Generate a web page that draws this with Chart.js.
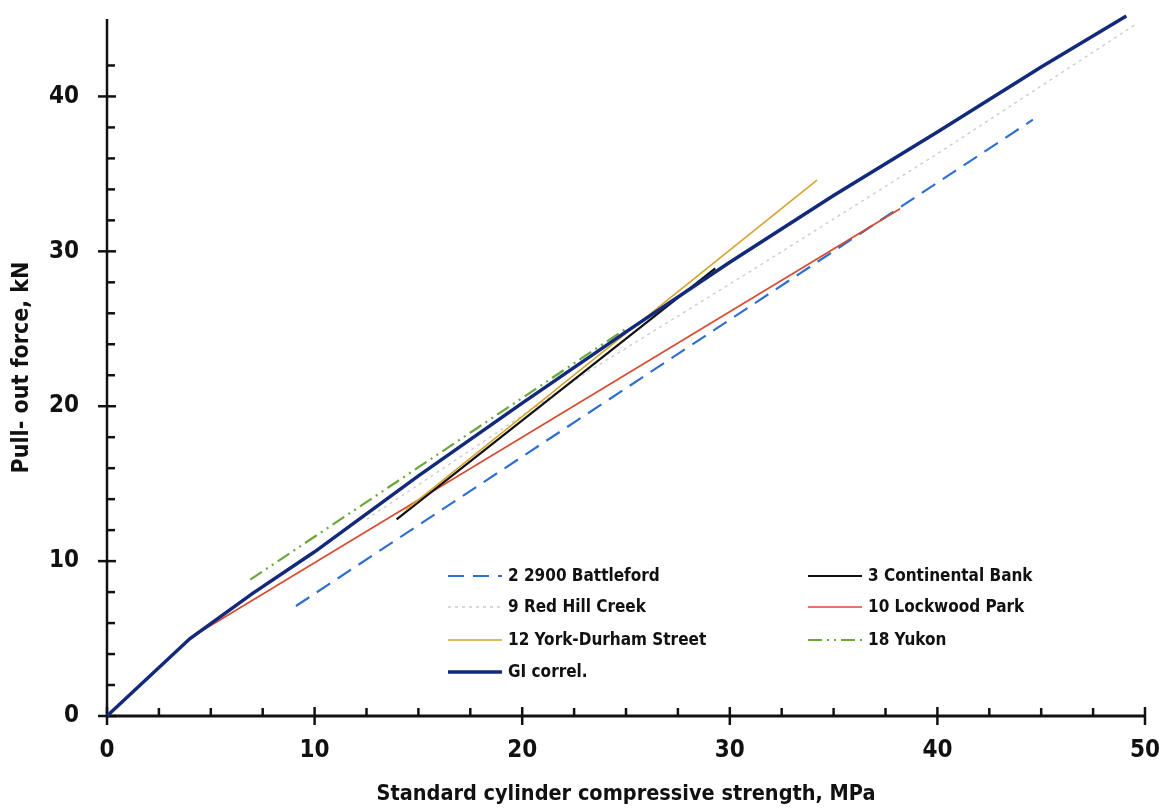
<!DOCTYPE html>
<html><head><meta charset="utf-8">
<script src="https://cdn.jsdelivr.net/npm/chart.js@4/dist/chart.umd.min.js"></script>
<style>html,body{margin:0;padding:0;background:#fff;}#wrap{width:1163px;height:809px;}</style>
</head><body><div id="wrap"><canvas id="c" width="1163" height="809"></canvas></div>
<script>
// ---- data ----
const seriesNames = ['2 2900 Battleford','3 Continental Bank','9 Red Hill Creek','10 Lockwood Park','12 York-Durham Street','18 Yukon','GI correl.'];
const battlefordX = [9.1, 44.6];
const battlefordY = [7.1, 38.5];
const continentalX = [13.95, 29.3];
const continentalY = [12.7, 28.9];
const redHillX = [12.5, 18, 23.25, 31.1, 40, 49.6];
const redHillY = [12.7, 17.6, 22.3, 28.8, 36.3, 44.7];
const lockwoodX = [4.2, 38.2];
const lockwoodY = [5.2, 32.75];
const yorkX = [14.4, 34.2];
const yorkY = [13.3, 34.6];
const yukonX = [6.9, 25.1];
const yukonY = [8.8, 25.1];
const giX = [0, 4, 7, 10, 15, 20, 25, 30, 35, 40, 45, 49.1];
const giY = [0, 5, 7.9, 10.6, 15.5, 20.2, 24.8, 29.3, 33.6, 37.7, 41.9, 45.2];
const xTickLabels = ['0','10','20','30','40','50'];
const yTickLabels = ['0','10','20','30','40'];
const xTitle = 'Standard cylinder compressive strength, MPa';
const yTitle = 'Pull- out force, kN';

const FONT = "'DejaVu Sans Condensed', 'Liberation Sans Narrow', 'DejaVu Sans', sans-serif";
const pts = (xs, ys) => xs.map((v, i) => ({x: v, y: ys[i]}));

const styles = [
  {color:'#2f6fd0', width:2.2, dash:[16,9], order:5},
  {color:'#111111', width:2.2, dash:[], order:3},
  {color:'#c9ccd4', width:1.4, dash:[3,4], order:6},
  {color:'#d84a2e', width:1.6, dash:[], order:4},
  {color:'#d4a32a', width:1.6, dash:[], order:2},
  {color:'#6aa839', width:2.2, dash:[14,5,2,5,2,5], order:1},
  {color:'#12297c', width:3.5, dash:[], order:0}
];
const seriesData = [
  pts(battlefordX, battlefordY), pts(continentalX, continentalY), pts(redHillX, redHillY),
  pts(lockwoodX, lockwoodY), pts(yorkX, yorkY), pts(yukonX, yukonY), pts(giX, giY)
];

const datasets = seriesNames.map((n, i) => ({
  label: n, data: seriesData[i], borderColor: styles[i].color, backgroundColor: styles[i].color,
  borderWidth: styles[i].width, borderDash: styles[i].dash, order: styles[i].order,
  pointRadius: 0, tension: 0, fill: false, clip: false
}));

const axesPlugin = {
  id: 'axesTicks',
  beforeDatasetsDraw(chart) {
    const {ctx, scales: {x, y}} = chart;
    const x0 = x.getPixelForValue(0), y0 = y.getPixelForValue(0);
    const ln = (a, b, c, d) => { ctx.beginPath(); ctx.moveTo(a, b); ctx.lineTo(c, d); ctx.stroke(); };
    ctx.save();
    ctx.strokeStyle = '#111';
    ctx.lineCap = 'butt';
    ctx.lineWidth = 2.5;
    ln(x0, y.getPixelForValue(y.max), x0, y0 + 1);
    ctx.lineWidth = 3;
    ln(x0 - 1, y0, x.getPixelForValue(x.max) + 1, y0);
    ctx.lineWidth = 2.5;
    x.ticks.forEach(t => {
      const px = x.getPixelForValue(t.value);
      if (t.value % 10 === 0) ln(px, y0 - 9, px, y0 + 9);
      else ln(px, y0 - 8, px, y0);
    });
    y.ticks.forEach(t => {
      if (t.value % 2 !== 0) return;
      const py = y.getPixelForValue(t.value);
      if (t.value % 10 === 0) ln(x0 - 9, py, x0 + 9, py);
      else ln(x0, py, x0 + 8, py);
    });
    ctx.restore();
  }
};

const legendPlugin = {
  id: 'customLegend',
  afterDraw(chart, args, opts) {
    const ctx = chart.ctx;
    ctx.save();
    ctx.font = 'bold ' + opts.fontSize + 'px ' + FONT;
    ctx.textBaseline = 'middle';
    ctx.fillStyle = '#111';
    chart.data.datasets.forEach((ds, i) => {
      const col = i % 2, row = Math.floor(i / 2);
      const lx = opts.colX[col], ly = opts.rowY[row];
      ctx.beginPath();
      ctx.strokeStyle = ds.borderColor;
      ctx.lineWidth = ds.borderWidth;
      ctx.setLineDash(ds.borderDash || []);
      ctx.moveTo(lx, ly); ctx.lineTo(lx + opts.lineLen, ly); ctx.stroke();
      ctx.setLineDash([]);
      ctx.fillText(ds.label, lx + opts.lineLen + opts.gap, ly + 1);
    });
    ctx.restore();
  }
};

new Chart(document.getElementById('c'), {
  type: 'line',
  data: {datasets},
  plugins: [axesPlugin, legendPlugin],
  options: {
    responsive: false, animation: false, devicePixelRatio: 1,
    layout: {padding: {top: 19, right: 18, left: 0, bottom: 0}},
    plugins: {
      legend: {display: false}, tooltip: {enabled: false},
      customLegend: {colX: [448, 808], rowY: [576, 607, 640, 672], lineLen: 54, gap: 6, fontSize: 17}
    },
    scales: {
      x: {
        type: 'linear', min: 0, max: 50,
        grid: {display: false, drawTicks: false}, border: {display: false},
        ticks: {stepSize: 2.5, autoSkip: false, maxRotation: 0, padding: 20, color: '#111',
          font: {family: FONT, size: 24, weight: 'bold'},
          callback: v => xTickLabels.includes(String(v)) ? String(v) : ''},
        title: {display: true, text: xTitle, color: '#111', font: {family: FONT, size: 21.5, weight: 'bold'}, padding: {top: 0, bottom: 2}},
        afterFit: s => { s.height = 93; s.paddingLeft = 0; s.paddingRight = 0; }
      },
      y: {
        type: 'linear', min: 0, max: 45,
        grid: {display: false, drawTicks: false}, border: {display: false},
        ticks: {stepSize: 2, autoSkip: false, padding: 28, color: '#111',
          font: {family: FONT, size: 24, weight: 'bold'},
          callback: v => yTickLabels.includes(String(v)) ? String(v) : ''},
        title: {display: true, text: yTitle, color: '#111', font: {family: FONT, size: 23, weight: 'bold'}, padding: {top: 8, bottom: 0}},
        afterFit: s => { s.width = 107; s.paddingTop = 0; s.paddingBottom = 0; }
      }
    }
  }
});
</script></body></html>
